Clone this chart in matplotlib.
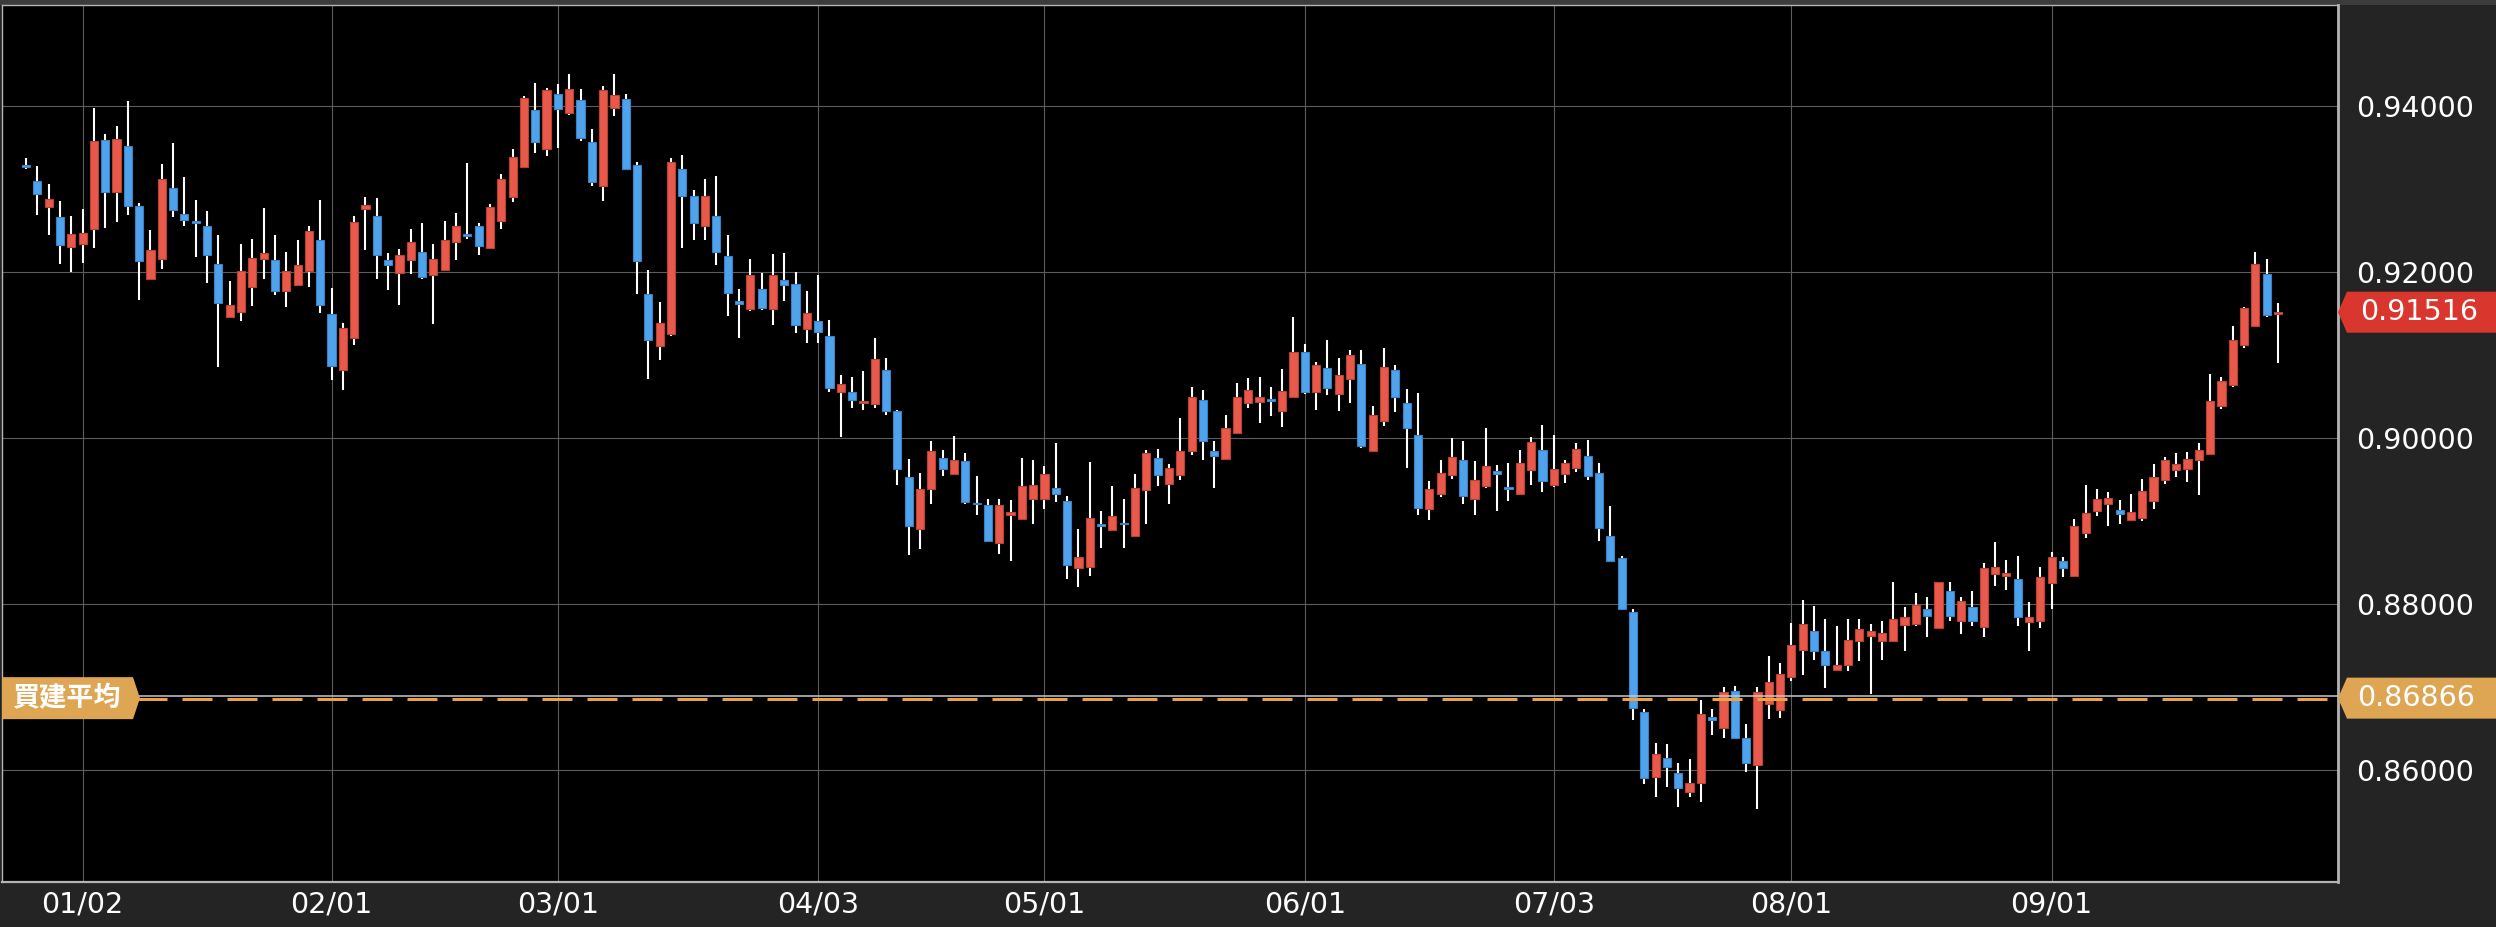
"""
Daily candlestick chart with buy-average line and price labels.
Saved to out.png
"""
import numpy as np
import matplotlib
matplotlib.use("Agg")
import matplotlib.pyplot as plt
from matplotlib.patches import Polygon, Rectangle

# daily OHLC, 2022-12-26 .. 2023-09-29 (weekdays)
opens = [0.9329, 0.9310, 0.9278, 0.9266, 0.9230, 0.9234, 0.9252, 0.9359, 0.9297, 0.9352,
         0.9280, 0.9191, 0.9216, 0.9301, 0.9270, 0.9262, 0.9256, 0.9210, 0.9146, 0.9152,
         0.9182, 0.9216, 0.9214, 0.9177, 0.9184, 0.9201, 0.9239, 0.9150, 0.9082, 0.9120,
         0.9276, 0.9268, 0.9214, 0.9199, 0.9214, 0.9224, 0.9196, 0.9203, 0.9236, 0.9246,
         0.9255, 0.9229, 0.9262, 0.9290, 0.9327, 0.9395, 0.9348, 0.9414, 0.9391, 0.9407,
         0.9357, 0.9304, 0.9398, 0.9409, 0.9329, 0.9174, 0.9111, 0.9125, 0.9324, 0.9292,
         0.9256, 0.9268, 0.9219, 0.9165, 0.9156, 0.9179, 0.9155, 0.9190, 0.9186, 0.9131,
         0.9141, 0.9123, 0.9056, 0.9056, 0.9042, 0.9041, 0.9082, 0.9032, 0.8953, 0.8890,
         0.8939, 0.8976, 0.8957, 0.8972, 0.8922, 0.8919, 0.8874, 0.8907, 0.8903, 0.8927,
         0.8926, 0.8940, 0.8924, 0.8844, 0.8845, 0.8896, 0.8889, 0.8898, 0.8882, 0.8937,
         0.8976, 0.8945, 0.8956, 0.8984, 0.9046, 0.8984, 0.8975, 0.9006, 0.9042, 0.9043,
         0.9047, 0.9033, 0.9050, 0.9104, 0.9055, 0.9084, 0.9053, 0.9071, 0.9089, 0.8984,
         0.9020, 0.9082, 0.9042, 0.9004, 0.8915, 0.8933, 0.8956, 0.8973, 0.8927, 0.8942,
         0.8960, 0.8941, 0.8932, 0.8962, 0.8986, 0.8944, 0.8957, 0.8964, 0.8978, 0.8958,
         0.8882, 0.8856, 0.8790, 0.8670, 0.8592, 0.8614, 0.8597, 0.8573, 0.8584, 0.8664,
         0.8651, 0.8695, 0.8638, 0.8606, 0.8679, 0.8672, 0.8712, 0.8745, 0.8767, 0.8743,
         0.8720, 0.8726, 0.8756, 0.8761, 0.8756, 0.8756, 0.8775, 0.8776, 0.8794, 0.8771,
         0.8816, 0.8780, 0.8796, 0.8772, 0.8836, 0.8834, 0.8830, 0.8778, 0.8780, 0.8825,
         0.8852, 0.8834, 0.8886, 0.8912, 0.8920, 0.8913, 0.8901, 0.8904, 0.8924, 0.8949,
         0.8962, 0.8963, 0.8973, 0.8981, 0.9038, 0.9064, 0.9112, 0.9135, 0.9198, 0.9149]
highs = [0.9337, 0.9328, 0.9306, 0.9286, 0.9267, 0.9276, 0.9398, 0.9366, 0.9376, 0.9406,
         0.9283, 0.9251, 0.9330, 0.9356, 0.9315, 0.9287, 0.9274, 0.9244, 0.9189, 0.9234,
         0.9240, 0.9277, 0.9244, 0.9224, 0.9238, 0.9256, 0.9287, 0.9181, 0.9138, 0.9268,
         0.9290, 0.9289, 0.9223, 0.9228, 0.9252, 0.9259, 0.9234, 0.9262, 0.9271, 0.9331,
         0.9259, 0.9282, 0.9318, 0.9348, 0.9412, 0.9428, 0.9422, 0.9427, 0.9439, 0.9420,
         0.9372, 0.9424, 0.9438, 0.9415, 0.9332, 0.9202, 0.9164, 0.9337, 0.9341, 0.9299,
         0.9312, 0.9316, 0.9244, 0.9180, 0.9216, 0.9199, 0.9222, 0.9223, 0.9200, 0.9177,
         0.9196, 0.9142, 0.9076, 0.9074, 0.9081, 0.9120, 0.9096, 0.9034, 0.8975, 0.8958,
         0.8996, 0.8986, 0.9002, 0.8982, 0.8954, 0.8927, 0.8927, 0.8925, 0.8976, 0.8974,
         0.8966, 0.8994, 0.8930, 0.8890, 0.8971, 0.8912, 0.8942, 0.8926, 0.8957, 0.8986,
         0.8987, 0.8969, 0.9024, 0.9062, 0.9058, 0.8996, 0.9028, 0.9066, 0.9072, 0.9074,
         0.9061, 0.9083, 0.9146, 0.9113, 0.9091, 0.9118, 0.9097, 0.9106, 0.9106, 0.9038,
         0.9108, 0.9088, 0.9059, 0.9054, 0.8948, 0.8974, 0.9000, 0.8997, 0.8972, 0.9012,
         0.8968, 0.8970, 0.8986, 0.9001, 0.9016, 0.9004, 0.8974, 0.8994, 0.8998, 0.8970,
         0.8918, 0.8858, 0.8794, 0.8673, 0.8632, 0.8631, 0.8608, 0.8613, 0.8684, 0.8673,
         0.8700, 0.8701, 0.8656, 0.8700, 0.8737, 0.8729, 0.8777, 0.8805, 0.8798, 0.8782,
         0.8773, 0.8782, 0.8782, 0.8776, 0.8779, 0.8827, 0.8796, 0.8813, 0.8809, 0.8827,
         0.8827, 0.8808, 0.8816, 0.8850, 0.8875, 0.8853, 0.8858, 0.8802, 0.8845, 0.8863,
         0.8857, 0.8902, 0.8944, 0.8939, 0.8935, 0.8925, 0.8933, 0.8951, 0.8969, 0.8977,
         0.8982, 0.8983, 0.8994, 0.9077, 0.9074, 0.9135, 0.9158, 0.9224, 0.9216, 0.9163]
lows = [0.9324, 0.9269, 0.9244, 0.9210, 0.9200, 0.9211, 0.9229, 0.9253, 0.9260, 0.9269,
        0.9166, 0.9190, 0.9204, 0.9266, 0.9255, 0.9218, 0.9187, 0.9085, 0.9145, 0.9141,
        0.9159, 0.9191, 0.9172, 0.9158, 0.9184, 0.9182, 0.9151, 0.9070, 0.9058, 0.9112,
        0.9227, 0.9191, 0.9178, 0.9160, 0.9198, 0.9191, 0.9137, 0.9203, 0.9214, 0.9240,
        0.9220, 0.9228, 0.9252, 0.9284, 0.9325, 0.9343, 0.9340, 0.9350, 0.9389, 0.9358,
        0.9304, 0.9285, 0.9388, 0.9323, 0.9174, 0.9071, 0.9094, 0.9123, 0.9229, 0.9239,
        0.9239, 0.9209, 0.9147, 0.9120, 0.9153, 0.9154, 0.9136, 0.9165, 0.9126, 0.9115,
        0.9115, 0.9055, 0.9001, 0.9036, 0.9034, 0.9036, 0.9028, 0.8944, 0.8859, 0.8866,
        0.8921, 0.8954, 0.8956, 0.8920, 0.8907, 0.8875, 0.8860, 0.8852, 0.8902, 0.8896,
        0.8915, 0.8923, 0.8830, 0.8820, 0.8834, 0.8867, 0.8888, 0.8868, 0.8882, 0.8897,
        0.8942, 0.8920, 0.8949, 0.8979, 0.8974, 0.8940, 0.8973, 0.9005, 0.9036, 0.9018,
        0.9026, 0.9013, 0.9049, 0.9053, 0.9034, 0.9052, 0.9033, 0.9042, 0.8988, 0.8984,
        0.9015, 0.9031, 0.8964, 0.8907, 0.8901, 0.8929, 0.8951, 0.8920, 0.8907, 0.8940,
        0.8912, 0.8924, 0.8931, 0.8943, 0.8935, 0.8941, 0.8946, 0.8959, 0.8950, 0.8876,
        0.8852, 0.8794, 0.8660, 0.8583, 0.8567, 0.8579, 0.8556, 0.8568, 0.8562, 0.8642,
        0.8639, 0.8637, 0.8598, 0.8553, 0.8662, 0.8663, 0.8707, 0.8714, 0.8732, 0.8699,
        0.8719, 0.8719, 0.8731, 0.8692, 0.8732, 0.8755, 0.8744, 0.8774, 0.8760, 0.8771,
        0.8779, 0.8764, 0.8773, 0.8760, 0.8822, 0.8817, 0.8774, 0.8744, 0.8771, 0.8794,
        0.8832, 0.8833, 0.8880, 0.8906, 0.8894, 0.8896, 0.8900, 0.8900, 0.8914, 0.8945,
        0.8953, 0.8947, 0.8931, 0.8980, 0.9035, 0.9061, 0.9109, 0.9135, 0.9146, 0.9090]
closes = [0.9327, 0.9294, 0.9288, 0.9232, 0.9246, 0.9247, 0.9358, 0.9297, 0.9360, 0.9280,
          0.9213, 0.9227, 0.9312, 0.9275, 0.9263, 0.9259, 0.9220, 0.9163, 0.9160, 0.9201,
          0.9217, 0.9223, 0.9177, 0.9201, 0.9209, 0.9249, 0.9160, 0.9087, 0.9132, 0.9260,
          0.9281, 0.9220, 0.9209, 0.9221, 0.9236, 0.9194, 0.9216, 0.9238, 0.9256, 0.9243,
          0.9231, 0.9278, 0.9312, 0.9338, 0.9410, 0.9357, 0.9419, 0.9396, 0.9421, 0.9362,
          0.9308, 0.9419, 0.9413, 0.9324, 0.9213, 0.9118, 0.9139, 0.9332, 0.9292, 0.9259,
          0.9291, 0.9224, 0.9175, 0.9162, 0.9197, 0.9157, 0.9196, 0.9184, 0.9136, 0.9151,
          0.9128, 0.9060, 0.9065, 0.9046, 0.9045, 0.9095, 0.9032, 0.8963, 0.8894, 0.8938,
          0.8984, 0.8963, 0.8974, 0.8923, 0.8920, 0.8876, 0.8919, 0.8911, 0.8942, 0.8944,
          0.8957, 0.8932, 0.8847, 0.8857, 0.8904, 0.8894, 0.8906, 0.8896, 0.8940, 0.8982,
          0.8956, 0.8964, 0.8984, 0.9050, 0.8997, 0.8978, 0.9012, 0.9050, 0.9058, 0.9050,
          0.9044, 0.9057, 0.9104, 0.9056, 0.9088, 0.9060, 0.9076, 0.9100, 0.8990, 0.9028,
          0.9085, 0.9050, 0.9012, 0.8916, 0.8938, 0.8958, 0.8977, 0.8930, 0.8950, 0.8966,
          0.8957, 0.8938, 0.8970, 0.8995, 0.8948, 0.8963, 0.8970, 0.8987, 0.8954, 0.8892,
          0.8852, 0.8794, 0.8675, 0.8590, 0.8619, 0.8604, 0.8578, 0.8584, 0.8667, 0.8660,
          0.8694, 0.8639, 0.8608, 0.8694, 0.8706, 0.8716, 0.8751, 0.8776, 0.8743, 0.8726,
          0.8727, 0.8757, 0.8770, 0.8767, 0.8765, 0.8782, 0.8784, 0.8799, 0.8785, 0.8826,
          0.8785, 0.8804, 0.8779, 0.8844, 0.8845, 0.8837, 0.8784, 0.8784, 0.8832, 0.8857,
          0.8844, 0.8894, 0.8910, 0.8926, 0.8928, 0.8909, 0.8911, 0.8936, 0.8953, 0.8974,
          0.8969, 0.8975, 0.8985, 0.9044, 0.9069, 0.9118, 0.9157, 0.9210, 0.9148, 0.91516]

date_idx = [5, 27, 47, 70, 90, 113, 135, 156, 179]
date_lab = ["01/02", "02/01", "03/01", "04/03", "05/01", "06/01", "07/03", "08/01", "09/01"]
price_ticks = [0.86, 0.88, 0.90, 0.92, 0.94]
last_price = 0.91516
avg_price = 0.86866
avg_label = "買建平均"

W, H, DPI = 2496, 927, 100
AX_L, AX_R, AX_B, AX_T = 2, 2338, 45, 922.5        # axes box in pixels
YMIN, YMAX = 0.84651, 0.95223
UP, DOWN = "#e8594b", "#4fa3ec"
BG_OUT = "#242424"
ORANGE_LAB, ORANGE_LINE, RED_LAB = "#dea553", "#f0a23e", "#d9372e"

plt.rcParams["font.family"] = ["DejaVu Sans"]

fig = plt.figure(figsize=(W / DPI, H / DPI), dpi=DPI, facecolor=BG_OUT)
# slightly lighter strip above the plot
fig.add_artist(Rectangle((0, AX_T / H), 1, 1 - AX_T / H, transform=fig.transFigure,
                         facecolor="#3c3c3c", edgecolor="none", zorder=0))
ax = fig.add_axes([AX_L / W, AX_B / H, (AX_R - AX_L) / W, (AX_T - AX_B) / H], facecolor="black")

x = np.arange(len(opens))
o, h, l, c = (np.array(v) for v in (opens, highs, lows, closes))
up = c >= o
ax.vlines(x, l, h, color="white", lw=1.5, zorder=3)
ax.bar(x, np.abs(c - o), bottom=np.minimum(o, c), width=0.72,
       color=np.where(up, UP, DOWN), edgecolor=np.where(up, "#b9412f", "#3b80c4"),
       lw=0.8, zorder=4)

ax.set_xlim(-2.12, 204.3); ax.set_ylim(YMIN, YMAX)
ax.set_xticks(date_idx, date_lab)
ax.yaxis.tick_right()
ax.set_yticks(price_ticks, [f"{p:.5f}" for p in price_ticks])
ax.tick_params(axis="x", length=0, pad=6, labelsize=20.5, colors="white")
ax.tick_params(axis="y", length=0, pad=13, labelsize=20.5, colors="white")
ax.grid(color="#5c5c5c", lw=0.8, zorder=1)
for s in ax.spines.values():
    s.set_color("#b4b4b4")
ax.spines["bottom"].set_linewidth(1.6); ax.spines["right"].set_linewidth(2.0)
ax.spines["left"].set_linewidth(1.0); ax.spines["top"].set_linewidth(1.0)

# buy-average line: thin grey line over orange dashes
px = (YMAX - YMIN) / (AX_T - AX_B)
ax.axhline(avg_price + 2.3 * px, color="#c9c9c9", lw=1.1, zorder=5)
ax.axhline(avg_price - 1.0 * px, color=ORANGE_LINE, lw=2.16, ls=(0, (10, 5)), zorder=5)


def ypix(p):
    return AX_B + (p - YMIN) / (YMAX - YMIN) * (AX_T - AX_B)


def tag(pts, color):
    fig.add_artist(Polygon([(a / W, b / H) for a, b in pts], closed=True,
                           transform=fig.transFigure, facecolor=color, edgecolor="none", zorder=10))


# right-hand price tags
for p, col, tx in ((last_price, RED_LAB, 2360), (avg_price, ORANGE_LAB, 2357)):
    yc = ypix(p)
    tag([(AX_R, yc), (AX_R + 9, yc + 20.5), (W, yc + 20.5), (W, yc - 20.5), (AX_R + 9, yc - 20.5)], col)
    fig.text(tx / W, yc / H, f"{p:.5f}", color="white", fontsize=20.5, va="center", ha="left", zorder=11)

# left-hand buy-average tag
yc = ypix(avg_price)
tag([(AX_L, yc + 21), (133, yc + 21), (140, yc), (133, yc - 21), (AX_L, yc - 21)], ORANGE_LAB)
fig.text(12 / W, yc / H, avg_label, color="white", fontsize=19.5, va="center", ha="left",
         weight="bold", family=["Noto Sans CJK JP", "DejaVu Sans"], zorder=11)

fig.savefig("out.png", dpi=DPI, facecolor=BG_OUT)
